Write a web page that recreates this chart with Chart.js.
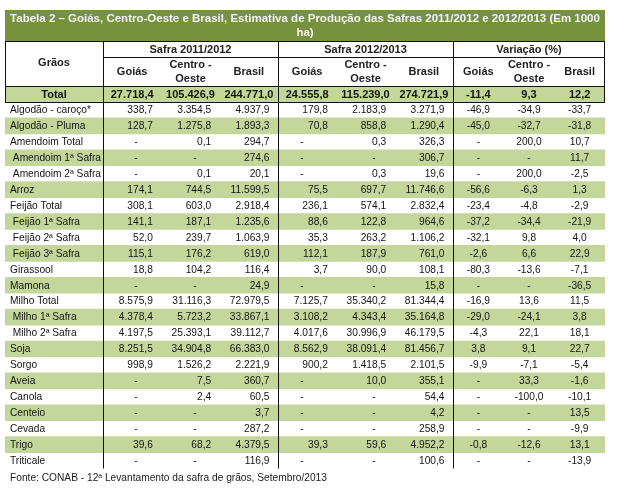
<!DOCTYPE html>
<html>
<head>
<meta charset="utf-8">
<script src="https://cdn.jsdelivr.net/npm/chart.js@4/dist/chart.umd.min.js"></script>
<style>
  html, body { margin: 0; padding: 0; background: #fff; }
  #wrap { width: 626px; height: 491px; }
</style>
</head>
<body>
<div id="wrap"><canvas id="tabela" width="626" height="491"></canvas></div>
<script>
// Table data (Total row first). null = "-"
const title = [
  "Tabela 2 – Goiás, Centro-Oeste e Brasil, Estimativa de Produção das Safras 2011/2012 e 2012/2013 (Em 1000",
  "ha)",
];
const blocks = ["Safra 2011/2012", "Safra 2012/2013", "Variação (%)"];
const subCols = [["Goiás"], ["Centro -", "Oeste"], ["Brasil"]];
const source = "Fonte: CONAB - 12ª Levantamento da safra de grãos, Setembro/2013";

const grains = [
  "Total", "Algodão - caroço*", "Algodão - Pluma", "Amendoim Total", " Amendoim 1ª Safra",
  " Amendoim 2ª Safra", "Arroz", "Feijão Total", " Feijão 1ª Safra", " Feijão 2ª Safra",
  " Feijão 3ª Safra", "Girassool", "Mamona", "Milho Total", " Milho 1ª Safra",
  " Milho 2ª Safra", "Soja", "Sorgo", "Aveia", "Canola", "Centeio", "Cevada", "Trigo", "Triticale",
];
const goias1112 = [27718.4, 338.7, 128.7, null, null, null, 174.1, 308.1, 141.1, 52.0, 115.1, 18.8, null, 8575.9, 4378.4, 4197.5, 8251.5, 998.9, null, null, null, null, 39.6, null];
const centro1112 = [105426.9, 3354.5, 1275.8, 0.1, null, 0.1, 744.5, 603.0, 187.1, 239.7, 176.2, 104.2, null, 31116.3, 5723.2, 25393.1, 34904.8, 1526.2, 7.5, 2.4, null, null, 68.2, null];
const brasil1112 = [244771.0, 4937.9, 1893.3, 294.7, 274.6, 20.1, 11599.5, 2918.4, 1235.6, 1063.9, 619.0, 116.4, 24.9, 72979.5, 33867.1, 39112.7, 66383.0, 2221.9, 360.7, 60.5, 3.7, 287.2, 4379.5, 116.9];
const goias1213 = [24555.8, 179.8, 70.8, null, null, null, 75.5, 236.1, 88.6, 35.3, 112.1, 3.7, null, 7125.7, 3108.2, 4017.6, 8562.9, 900.2, null, null, null, null, 39.3, null];
const centro1213 = [115239.0, 2183.9, 858.8, 0.3, null, 0.3, 697.7, 574.1, 122.8, 263.2, 187.9, 90.0, null, 35340.2, 4343.4, 30996.9, 38091.4, 1418.5, 10.0, null, null, null, 59.6, null];
const brasil1213 = [274721.9, 3271.9, 1290.4, 326.3, 306.7, 19.6, 11746.6, 2832.4, 964.6, 1106.2, 761.0, 108.1, 15.8, 81344.4, 35164.8, 46179.5, 81456.7, 2101.5, 355.1, 54.4, 4.2, 258.9, 4952.2, 100.6];
const varGoias = [-11.4, -46.9, -45.0, null, null, null, -56.6, -23.4, -37.2, -32.1, -2.6, -80.3, null, -16.9, -29.0, -4.3, 3.8, -9.9, null, null, null, null, -0.8, null];
const varCentro = [9.3, -34.9, -32.7, 200.0, null, 200.0, -6.3, -4.8, -34.4, 9.8, 6.6, -13.6, null, 13.6, -24.1, 22.1, 9.1, -7.1, 33.3, -100.0, null, null, -12.6, null];
const varBrasil = [12.2, -33.7, -31.8, 10.7, 11.7, -2.5, 1.3, -2.9, -21.9, 4.0, 22.9, -7.1, -36.5, 11.5, 3.8, 18.1, 22.7, -5.4, -1.6, -10.1, 13.5, -9.9, 13.1, -13.9];

const columns = [goias1112, centro1112, brasil1112, goias1213, centro1213, brasil1213, varGoias, varCentro, varBrasil];

// layout (x in table units = px from the left edge of the table)
const TABLE_W = 600;
const COL_EDGES = [0, 98, 156.3, 214.7, 273, 331.3, 389.7, 448, 498.7, 549.3, 600];
const DASH_X = [131, 190, null, 297, 369, null];
const TITLE_TOP = 10, HEAD_TOP = 41, SUB_TOP = 57;

const GREEN_DARK = "#76923c";
const GREEN_LIGHT = "#c4d79b";
const FONT = '"Liberation Sans", Arial, sans-serif';
const BODY_FONT = "10.2px " + FONT;

// 27718.4 -> "27.718,4"
const fmt = (v) => {
  const neg = v < 0;
  const [int, dec] = Math.abs(v).toFixed(1).split(".");
  return (neg ? "-" : "") + int.replace(/\B(?=(\d{3})+(?!\d))/g, ".") + "," + dec;
};

const tablePlugin = {
  id: "tableText",
  afterDatasetsDraw(chart) {
    const { ctx, chartArea } = chart;
    const x = chart.scales.x;
    const y = chart.scales.y;
    const px = (u) => x.getPixelForValue(u);
    const crisp = (v) => Math.round(v) + 0.5;
    const left = px(0), right = px(TABLE_W);
    const half = (y.getPixelForValue(1) - y.getPixelForValue(0)) / 2;

    ctx.save();

    // title band
    ctx.fillStyle = GREEN_DARK;
    ctx.fillRect(left, TITLE_TOP, right - left, HEAD_TOP - TITLE_TOP);
    ctx.fillStyle = "#f4f4f4";
    ctx.font = "bold 11.5px " + FONT;
    ctx.textAlign = "center";
    ctx.textBaseline = "middle";
    ctx.fillText(title[0], (left + right) / 2, TITLE_TOP + 9);
    ctx.fillText(title[1], (left + right) / 2, TITLE_TOP + 23);

    // header text
    ctx.fillStyle = "#222";
    ctx.font = "bold 11px " + FONT;
    ctx.fillText("Grãos", (px(COL_EDGES[0]) + px(COL_EDGES[1])) / 2, 63);
    blocks.forEach((b, k) => {
      const x0 = px(COL_EDGES[1 + k * 3]), x1 = px(COL_EDGES[4 + k * 3]);
      ctx.fillText(b, (x0 + x1) / 2, (HEAD_TOP + SUB_TOP) / 2 + 0.5);
      subCols.forEach((lines, j) => {
        const c = 1 + k * 3 + j;
        const cx = (px(COL_EDGES[c]) + px(COL_EDGES[c + 1])) / 2;
        if (lines.length === 1) {
          ctx.fillText(lines[0], cx, 71.5);
        } else {
          ctx.fillText(lines[0], cx, 64.5);
          ctx.fillText(lines[1], cx, 78.5);
        }
      });
    });

    // body
    grains.forEach((g, i) => {
      const cy = y.getPixelForValue(i);
      const isTotal = i === 0;
      ctx.fillStyle = "#141414";
      if (isTotal) {
        ctx.font = "bold 11px " + FONT;
        ctx.textAlign = "center";
        ctx.fillText(g, (px(COL_EDGES[0]) + px(COL_EDGES[1])) / 2, cy + 0.5);
      } else {
        ctx.font = BODY_FONT;
        ctx.textAlign = "left";
        ctx.fillText(g, px(5), cy + 0.5);
      }
      columns.forEach((col, j) => {
        const v = col[i];
        const x0 = px(COL_EDGES[j + 1]), x1 = px(COL_EDGES[j + 2]);
        if (isTotal) {
          ctx.textAlign = "center";
          ctx.fillText(fmt(v), (x0 + x1) / 2, cy + 0.5);
          return;
        }
        if (j >= 6) {
          ctx.textAlign = "center";
          ctx.fillText(v === null ? "-" : fmt(v), (x0 + x1) / 2, cy + 0.5);
        } else if (v === null) {
          ctx.textAlign = "center";
          ctx.fillText("-", px(DASH_X[j]), cy + 0.5);
        } else {
          ctx.textAlign = "right";
          ctx.fillText(fmt(v), x1 - 8.5, cy + 0.5);
        }
      });
    });

    // grid lines
    const top = y.getPixelForValue(0) - half;
    const totalBottom = y.getPixelForValue(0) + half;
    const bottom = chartArea.bottom;
    ctx.strokeStyle = "#111";
    ctx.lineWidth = 1;
    ctx.beginPath();
    [HEAD_TOP, top, totalBottom].forEach((h) => {
      ctx.moveTo(left, crisp(h));
      ctx.lineTo(right, crisp(h));
    });
    ctx.moveTo(px(COL_EDGES[1]), crisp(SUB_TOP));
    ctx.lineTo(right, crisp(SUB_TOP));
    // outer sides of header
    ctx.moveTo(crisp(left), HEAD_TOP);
    ctx.lineTo(crisp(left), totalBottom);
    ctx.moveTo(crisp(right - 1), HEAD_TOP);
    ctx.lineTo(crisp(right - 1), totalBottom);
    // block separators
    [1, 4, 7].forEach((c) => {
      ctx.moveTo(crisp(px(COL_EDGES[c])), HEAD_TOP);
      ctx.lineTo(crisp(px(COL_EDGES[c])), bottom);
    });
    ctx.stroke();

    // source
    ctx.fillStyle = "#222";
    ctx.font = BODY_FONT;
    ctx.textAlign = "left";
    ctx.fillText(source, px(5), bottom + 10);

    ctx.restore();
  },
};

new Chart(document.getElementById("tabela").getContext("2d"), {
  type: "bar",
  data: {
    labels: grains,
    datasets: [
      {
        // shaded rows: Total and every other line
        data: grains.map((g, i) => (i % 2 === 0 ? [0, TABLE_W] : null)),
        backgroundColor: GREEN_LIGHT,
        borderWidth: 0,
        barPercentage: 1,
        categoryPercentage: 1,
      },
    ],
  },
  options: {
    indexAxis: "y",
    responsive: false,
    animation: false,
    events: [],
    layout: { padding: { left: 5, right: 21, top: 86, bottom: 22.5 } },
    plugins: {
      legend: { display: false },
      tooltip: { enabled: false },
    },
    scales: {
      x: { type: "linear", min: 0, max: TABLE_W, display: false },
      y: { type: "category", display: false, offset: true },
    },
  },
  plugins: [tablePlugin],
});
</script>
</body>
</html>
